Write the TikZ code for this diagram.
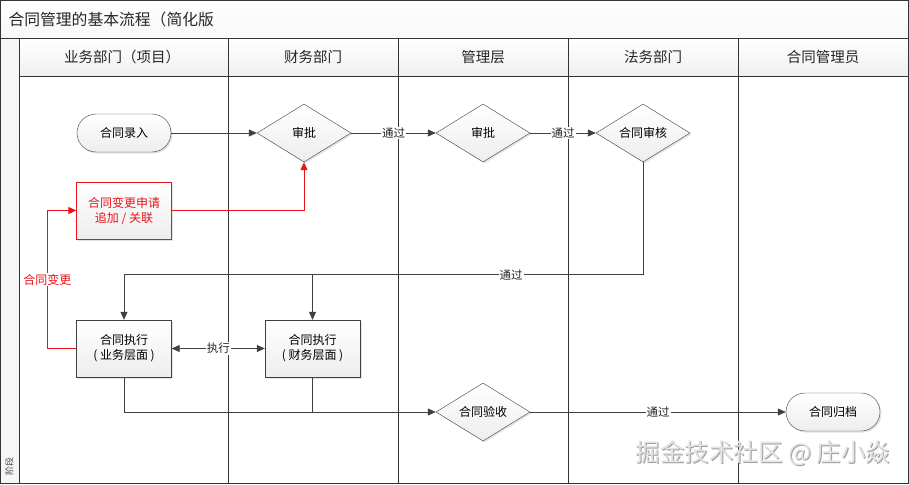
\documentclass[tikz,border=0pt]{standalone}
\usepackage{fontspec}
\setmainfont{Noto Sans CJK SC}
\usetikzlibrary{shapes.geometric,shadows,arrows.meta,calc}
\definecolor{ln}{HTML}{404040}
\definecolor{fr}{HTML}{333333}
\definecolor{rd}{HTML}{E8141B}
\begin{document}
\begin{tikzpicture}[x=1pt,y=-1pt,
  shd/.style={drop shadow={shadow xshift=1.5pt,shadow yshift=-1.5pt,opacity=0.22}},
  grad/.style={top color=white,bottom color=gray!14},
  term/.style={draw=ln,grad,shd,rounded corners=19pt,minimum width=94pt,minimum height=38pt,inner sep=0pt,font=\fontsize{12}{14}\selectfont},
  dec/.style={diamond,draw=ln,grad,shd,aspect=1.62,minimum width=94pt,minimum height=58pt,inner sep=0pt,font=\fontsize{12}{14}\selectfont},
  proc/.style={draw=ln,grad,shd,minimum width=95pt,minimum height=57pt,inner sep=0pt,align=center,font=\fontsize{12}{15}\selectfont},
  arr/.style={draw=ln,line width=0.8pt,-{Triangle[length=8pt,width=7pt]}},
  con/.style={draw=ln,line width=0.8pt},
  redarr/.style={draw=rd,line width=0.9pt,-{Triangle[length=8pt,width=7pt]}},
  lbl/.style={fill=white,inner sep=1pt,text=black!85,font=\fontsize{11.5}{13}\selectfont},
  hdr/.style={font=\fontsize{14.5}{17}\selectfont,text=black!85}
]
\useasboundingbox (0,0) rectangle (909,484);
\fill[white] (0,0) rectangle (909,484);
% title bar
\shade[top color=white,bottom color=gray!6] (0.5,0.5) rectangle (908.5,38);
\node[anchor=west,font=\fontsize{15.8}{18}\selectfont,text=black!85] (title) at (5,19) {合同管理的基本流程（简化版};
% left strip
\fill[gray!7] (0.5,38) rectangle (19,483.5);
\node[rotate=90,font=\fontsize{9}{10}\selectfont,text=black!70] (stage) at (9.5,466) {阶段};
% header cells
\foreach \a/\b in {19/228,228/398,398/568,568/738,738/908.5}{
  \shade[top color=white,bottom color=gray!12] (\a,38) rectangle (\b,76);
}
\node[hdr] (h1) at (122,57) {业务部门（项目）};
\node[hdr] (h2) at (313,57) {财务部门};
\node[hdr] (h3) at (483,57) {管理层};
\node[hdr] (h4) at (653,57) {法务部门};
\node[hdr] (h5) at (823,57) {合同管理员};
% grid lines
\draw[fr,line width=0.8pt] (0.5,0.5) rectangle (908.5,483.5);
\draw[fr,line width=0.8pt] (0.5,38) -- (908.5,38);
\draw[fr,line width=0.8pt] (19,76) -- (908.5,76);
\foreach \x in {19,228,398,568,738}{
  \draw[fr,line width=0.8pt] (\x,38) -- (\x,483.5);
}
% nodes
\node[term] (in) at (124,133) {合同录入};
\node[dec] (d1) at (304,133) {审批};
\node[dec] (d2) at (483,133) {审批};
\node[dec] (d3) at (643,133) {合同审核};
\node[proc,draw=rd,text=rd] (chg) at (124,210.5) {合同变更申请\\追加 / 关联};
\node[proc] (ex1) at (124,348.5) {合同执行\\( 业务层面 )};
\node[proc] (ex2) at (312.5,348.5) {合同执行\\( 财务层面 )};
\node[dec] (acc) at (483,412) {合同验收};
\node[term] (arc) at (833,412) {合同归档};
% connectors
\draw[arr] (in) -- (d1.west);
\draw[arr] (d1.east) -- node[lbl]{通过} (d2.west);
\draw[arr] (d2.east) -- node[lbl]{通过} (d3.west);
\draw[arr] (d3.south) |- node[lbl,pos=0.627]{通过} ($(ex1.north)+(0,-45)$) -- (ex1.north);
\draw[arr] ($(ex2.north)+(0,-45)$) -- (ex2.north);
\draw[redarr] (ex1.west) -- ++(-29,0) |- node[pos=0.25,fill=white,inner sep=1pt,text=rd,font=\fontsize{12}{13}\selectfont]{合同变更} (chg.west);
\draw[redarr] (chg.east) -| (d1.south);
\draw[con,{Triangle[length=8pt,width=7pt]}-{Triangle[length=8pt,width=7pt]}] (ex1.east) -- node[lbl]{执行} (ex2.west);
\draw[arr] (ex1.south) |- (acc.west);
\draw[con] (ex2.south) -- (ex2.south |- acc.west);
\draw[arr] (acc.east) -- node[lbl]{通过} (arc.west);
% watermark
\node[font=\fontsize{24.5}{26}\selectfont,text=gray!75] (wms) at (764,454) {掘金技术社区 @ 庄小焱};
\node[font=\fontsize{24.5}{26}\selectfont,text=gray!22] (wm) at (763,453) {掘金技术社区 @ 庄小焱};
\end{tikzpicture}
\end{document}
